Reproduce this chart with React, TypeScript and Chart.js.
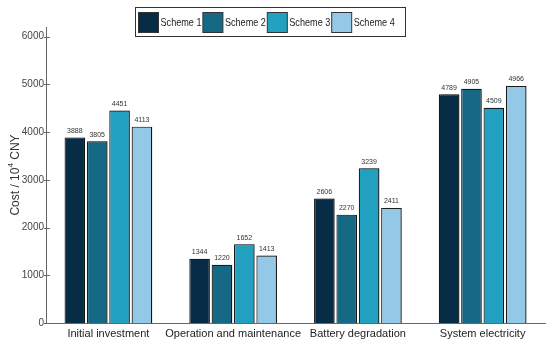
import React, { useEffect, useRef } from "react";
import { Chart, registerables } from "chart.js";

Chart.register(...registerables);

const categories = ["Initial investment", "Operation and maintenance", "Battery degradation", "System electricity"];
const seriesNames = ["Scheme 1", "Scheme 2", "Scheme 3", "Scheme 4"];
const scheme1 = [3888, 1344, 2606, 4789];
const scheme2 = [3805, 1220, 2270, 4905];
const scheme3 = [4451, 1652, 3239, 4509];
const scheme4 = [4113, 1413, 2411, 4966];
const colors = ["#062c46", "#166985", "#22a0c0", "#93c9e7"];
const yTicks = [0, 1000, 2000, 3000, 4000, 5000, 6000];
const yMax = 6200;

const FONT = "'Liberation Sans', Arial, sans-serif";

const shadowPlugin = {
  id: "barShadow",
  beforeDatasetsDraw(chart: any) {
    const ctx = chart.ctx;
    ctx.save();
    ctx.shadowColor = "rgba(0,0,0,0.28)";
    ctx.shadowOffsetX = 2;
    ctx.shadowOffsetY = 0;
    ctx.shadowBlur = 0;
  },
  afterDatasetsDraw(chart: any) {
    chart.ctx.restore();
  },
};

const labelPlugin = {
  id: "valueLabels",
  afterDatasetsDraw(chart: any) {
    const ctx = chart.ctx;
    ctx.save();
    ctx.font = `7px ${FONT}`;
    ctx.fillStyle = "#333";
    ctx.textAlign = "center";
    ctx.textBaseline = "bottom";
    chart.data.datasets.forEach((ds: any, i: number) => {
      const meta = chart.getDatasetMeta(i);
      meta.data.forEach((el: any, j: number) => {
        ctx.fillText(String(ds.data[j]), el.x, el.y - 3);
      });
    });
    ctx.restore();
  },
};

const decorPlugin = {
  id: "decor",
  afterDraw(chart: any) {
    const ctx = chart.ctx;
    const area = chart.chartArea;
    const yScale = chart.scales.y;
    ctx.save();
    ctx.strokeStyle = "#666";
    ctx.lineWidth = 1;
    yTicks.forEach((v) => {
      const y = Math.round(yScale.getPixelForValue(v)) + 0.5;
      ctx.beginPath();
      ctx.moveTo(area.left - 2, y);
      ctx.lineTo(area.left + 4, y);
      ctx.stroke();
    });
    const cy = (area.top + area.bottom) / 2;
    ctx.translate(16, cy);
    ctx.rotate(-Math.PI / 2);
    ctx.fillStyle = "#333";
    ctx.textBaseline = "middle";
    ctx.textAlign = "left";
    const big = `12px ${FONT}`;
    const small = `8px ${FONT}`;
    const p1 = "Cost / 10";
    const p2 = "4";
    const p3 = " CNY";
    ctx.font = big;
    const w1 = ctx.measureText(p1).width;
    const w3 = ctx.measureText(p3).width;
    ctx.font = small;
    const w2 = ctx.measureText(p2).width;
    let x = -(w1 + w2 + w3) / 2;
    ctx.font = big;
    ctx.fillText(p1, x, 0);
    x += w1;
    ctx.font = small;
    ctx.fillText(p2, x, -5);
    x += w2;
    ctx.font = big;
    ctx.fillText(p3, x, 0);
    ctx.restore();

    ctx.save();
    const boxL = 135, boxT = 7, boxW = 270, boxH = 29;
    ctx.fillStyle = "#fff";
    ctx.fillRect(boxL, boxT, boxW, boxH);
    ctx.strokeStyle = "#333";
    ctx.lineWidth = 1;
    ctx.strokeRect(boxL + 0.5, boxT + 0.5, boxW, boxH);
    ctx.font = `10.5px ${FONT}`;
    ctx.textBaseline = "middle";
    ctx.textAlign = "left";
    seriesNames.forEach((name, i) => {
      const sx = boxL + 3.5 + i * 64.4;
      const sy = boxT + 5.5;
      ctx.fillStyle = colors[i];
      ctx.fillRect(sx, sy, 20, 20);
      ctx.strokeStyle = "#333";
      ctx.strokeRect(sx, sy, 20, 20);
      ctx.fillStyle = "#222";
      ctx.fillText(name, sx + 22, sy + 10.5, 41);
    });
    ctx.restore();
  },
};

export default function App() {
  const ref = useRef<HTMLCanvasElement | null>(null);
  useEffect(() => {
    if (!ref.current) return;
    const all = [scheme1, scheme2, scheme3, scheme4];
    const chart = new Chart(ref.current, {
      type: "bar",
      data: {
        labels: categories,
        datasets: all.map((d, i) => ({
          label: seriesNames[i],
          data: d,
          backgroundColor: colors[i],
          borderColor: "#1a1a1a",
          borderWidth: 1.2,
          barPercentage: 0.92,
          categoryPercentage: 0.717,
        })),
      },
      options: {
        responsive: false,
        animation: false,
        events: [],
        layout: { padding: { top: 27, right: 5, left: 0, bottom: 0 } },
        plugins: {
          legend: { display: false },
          tooltip: { enabled: false },
          title: { display: false },
        },
        scales: {
          x: {
            grid: { display: false, drawTicks: false },
            border: { display: true, color: "#666", width: 1 },
            ticks: { font: { family: FONT, size: 11 }, color: "#222", padding: 4, maxRotation: 0, autoSkip: false },
            afterFit: (s: any) => { s.height = 19; },
          },
          y: {
            min: 0,
            max: yMax,
            grid: { display: false, drawTicks: false },
            border: { display: true, color: "#666", width: 1 },
            ticks: {
              stepSize: 1000,
              font: { family: FONT, size: 10 },
              color: "#444",
              padding: 2,
              callback: (v: any) => String(v),
            },
            afterBuildTicks: (s: any) => { s.ticks = yTicks.map((v) => ({ value: v })); },
            afterFit: (s: any) => { s.width = 46; },
          },
        },
      },
      plugins: [shadowPlugin, labelPlugin, decorPlugin],
    });
    return () => chart.destroy();
  }, []);
  return (
    <div style={{ position: "fixed", left: 0, top: 0, width: 550, height: 342, background: "#fff" }}>
      <canvas ref={ref} width={550} height={342} style={{ display: "block" }} />
    </div>
  );
}
